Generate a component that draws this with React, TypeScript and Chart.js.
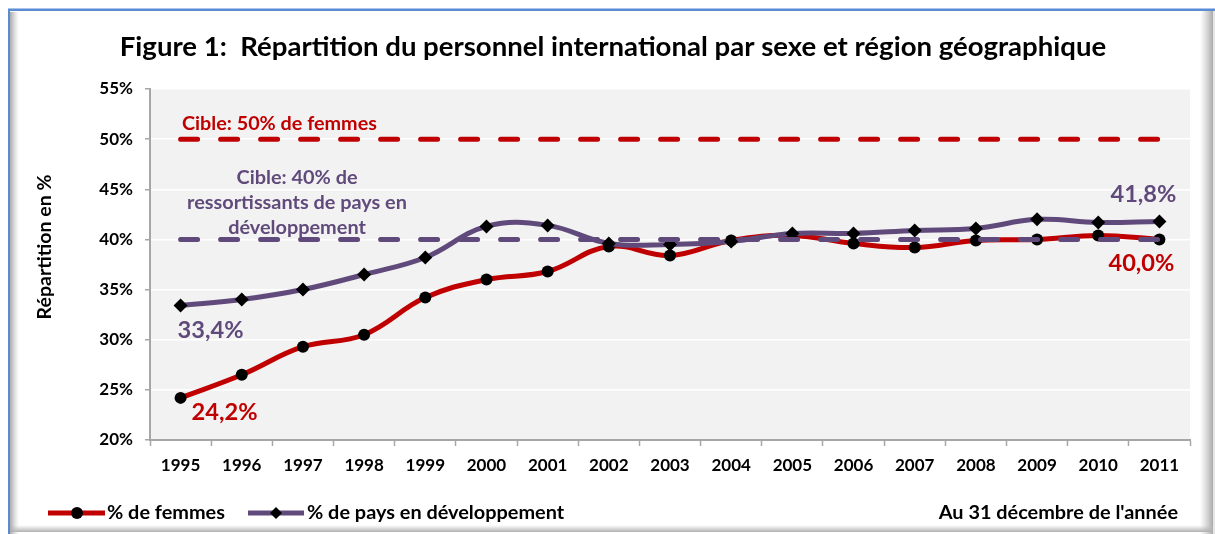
import React, { useEffect, useRef } from 'react';
import { Chart, registerables } from 'chart.js';

Chart.register(...registerables);

const YEARS = ['1995', '1996', '1997', '1998', '1999', '2000', '2001', '2002', '2003', '2004', '2005', '2006', '2007', '2008', '2009', '2010', '2011'];
const FEMMES = [24.2, 26.5, 29.3, 30.5, 34.2, 36.0, 36.8, 39.3, 38.4, 39.9, 40.4, 39.6, 39.2, 39.9, 40.0, 40.4, 40.0];
const PAYS_DEV = [33.4, 34.0, 35.0, 36.5, 38.2, 41.3, 41.4, 39.6, 39.5, 39.8, 40.6, 40.6, 40.9, 41.1, 42.0, 41.7, 41.8];
const CIBLE_FEMMES = [50, 50, 50, 50, 50, 50, 50, 50, 50, 50, 50, 50, 50, 50, 50, 50, 50];
const CIBLE_PAYS = [40, 40, 40, 40, 40, 40, 40, 40, 40, 40, 40, 40, 40, 40, 40, 40, 40];
const Y_MIN = 20;
const Y_MAX = 55;
const Y_STEP = 5;

const TITLE = 'Figure 1:  Répartition du personnel international par sexe et région géographique';
const Y_TITLE = 'Répartition en %';
const CIBLE_F_TEXT = 'Cible: 50% de femmes';
const CIBLE_P_TEXT = ['Cible: 40% de', 'ressortissants de pays en', 'développement'];
const LEGEND_F = '% de femmes';
const LEGEND_P = '% de pays en développement';
const FOOTNOTE = "Au 31 décembre de l'année";

const RED = '#c00000';
const PURPLE = '#604a7b';
const AXIS = '#a6a6a6';
const FONT = 'Lato, "Open Sans", sans-serif';

const fmt = (v: number) => v.toFixed(1).replace('.', ',') + '%';

function fitSize(ctx: CanvasRenderingContext2D, text: string, width: number, base = 20) {
  ctx.font = `bold ${base}px ${FONT}`;
  const w = ctx.measureText(text).width;
  return (base * width) / w;
}

const decorPlugin = {
  id: 'decor',
  beforeDraw(chart: any) {
    const ctx: CanvasRenderingContext2D = chart.ctx;
    const W = chart.width;
    const H = chart.height;
    ctx.save();
    ctx.fillStyle = '#ffffff';
    ctx.fillRect(0, 0, W, H);
    // right shadow
    let g = ctx.createLinearGradient(1200, 0, 1213, 0);
    g.addColorStop(0, 'rgba(190,190,190,0)');
    g.addColorStop(1, 'rgba(170,170,170,1)');
    ctx.fillStyle = g;
    ctx.fillRect(1200, 10, 13, H - 10);
    ctx.fillStyle = '#e6e6e6';
    ctx.fillRect(1213, 10, 2, H - 10);
    // bottom shadow
    g = ctx.createLinearGradient(0, 525, 0, 532);
    g.addColorStop(0, 'rgba(190,190,190,0)');
    g.addColorStop(1, 'rgba(175,175,175,1)');
    ctx.fillStyle = g;
    ctx.fillRect(10, 525, 1203, 7);
    // left inner shadow
    g = ctx.createLinearGradient(10, 0, 19, 0);
    g.addColorStop(0, 'rgba(170,170,170,1)');
    g.addColorStop(1, 'rgba(200,200,200,0)');
    ctx.fillStyle = g;
    ctx.fillRect(10, 12, 9, H - 12);
    // blue frame
    ctx.fillStyle = '#5b8bd3';
    ctx.fillRect(8, 9, W - 8, 2);
    ctx.fillRect(8, 9, 2, H - 9);
    ctx.fillStyle = '#a9c4ec';
    ctx.fillRect(8, 8, W - 8, 1);
    // plot area
    const a = chart.chartArea;
    ctx.fillStyle = '#f2f2f2';
    ctx.fillRect(a.left, a.top, a.right - a.left, a.bottom - a.top);
    ctx.restore();
  },
  afterDraw(chart: any) {
    const ctx: CanvasRenderingContext2D = chart.ctx;
    ctx.save();
    ctx.textBaseline = 'middle';

    // Title
    let s = fitSize(ctx, TITLE, 987, 22);
    ctx.font = `bold ${s}px ${FONT}`;
    ctx.fillStyle = '#000';
    ctx.textAlign = 'center';
    ctx.fillText(TITLE, 613, 47);

    // Y axis title
    s = fitSize(ctx, Y_TITLE, 145, 16);
    ctx.font = `bold ${s}px ${FONT}`;
    ctx.save();
    ctx.translate(45, 247);
    ctx.rotate(-Math.PI / 2);
    ctx.textAlign = 'center';
    ctx.fillText(Y_TITLE, 0, 0);
    ctx.restore();

    // Target annotations
    s = fitSize(ctx, CIBLE_F_TEXT, 195, 18);
    ctx.font = `bold ${s}px ${FONT}`;
    ctx.fillStyle = RED;
    ctx.textAlign = 'left';
    ctx.fillText(CIBLE_F_TEXT, 182, 124);

    s = fitSize(ctx, CIBLE_P_TEXT[1], 220, 18);
    ctx.font = `bold ${s}px ${FONT}`;
    ctx.fillStyle = PURPLE;
    ctx.textAlign = 'center';
    CIBLE_P_TEXT.forEach((t, i) => ctx.fillText(t, 297, 178 + i * 25));

    // Value labels
    const mF = chart.getDatasetMeta(0).data;
    const mP = chart.getDatasetMeta(1).data;
    const last = YEARS.length - 1;
    s = fitSize(ctx, fmt(PAYS_DEV[0]), 66, 22);
    ctx.font = `bold ${s}px ${FONT}`;
    ctx.fillStyle = PURPLE;
    ctx.textAlign = 'left';
    ctx.fillText(fmt(PAYS_DEV[0]), mP[0].x - 3, mP[0].y + 25);
    ctx.textAlign = 'center';
    ctx.fillText(fmt(PAYS_DEV[last]), mP[last].x - 16, mP[last].y - 27);
    ctx.fillStyle = RED;
    ctx.textAlign = 'left';
    ctx.fillText(fmt(FEMMES[0]), mF[0].x + 11, mF[0].y + 15);
    ctx.textAlign = 'center';
    ctx.fillText(fmt(FEMMES[last]), mF[last].x - 18, mF[last].y + 24);

    // Legend
    const ly = 513;
    ctx.lineCap = 'butt';
    ctx.lineWidth = 5;
    ctx.strokeStyle = RED;
    ctx.beginPath();
    ctx.moveTo(48, ly);
    ctx.lineTo(105, ly);
    ctx.stroke();
    ctx.fillStyle = '#000';
    ctx.beginPath();
    ctx.arc(77, ly, 6, 0, Math.PI * 2);
    ctx.fill();

    ctx.strokeStyle = PURPLE;
    ctx.beginPath();
    ctx.moveTo(248, ly);
    ctx.lineTo(304, ly);
    ctx.stroke();
    ctx.fillStyle = '#000';
    ctx.beginPath();
    ctx.moveTo(276 - 6, ly);
    ctx.lineTo(276, ly - 6);
    ctx.lineTo(276 + 6, ly);
    ctx.lineTo(276, ly + 6);
    ctx.closePath();
    ctx.fill();

    s = fitSize(ctx, LEGEND_F, 118, 16);
    ctx.font = `bold ${s}px ${FONT}`;
    ctx.fillStyle = '#000';
    ctx.textAlign = 'left';
    ctx.fillText(LEGEND_F, 107, ly);
    ctx.fillText(LEGEND_P, 307, ly);
    ctx.textAlign = 'right';
    ctx.fillText(FOOTNOTE, 1178, ly);

    ctx.restore();
  },
};

export default function App() {
  const ref = useRef<HTMLCanvasElement | null>(null);

  useEffect(() => {
    if (!ref.current) return;
    const dash = [17, 23];
    const chart = new Chart(ref.current, {
      type: 'line',
      data: {
        labels: YEARS,
        datasets: [
          {
            label: LEGEND_F,
            data: FEMMES,
            borderColor: RED,
            backgroundColor: '#000',
            pointBackgroundColor: '#000',
            pointBorderColor: '#000',
            pointStyle: 'circle',
            pointRadius: 6,
            pointBorderWidth: 0,
            borderWidth: 5,
            tension: 0.4,
            order: 3,
          },
          {
            label: LEGEND_P,
            data: PAYS_DEV,
            borderColor: PURPLE,
            backgroundColor: '#000',
            pointBackgroundColor: '#000',
            pointBorderColor: '#000',
            pointStyle: 'rectRot',
            pointRadius: 7,
            pointBorderWidth: 0,
            borderWidth: 5,
            tension: 0.4,
            order: 2,
          },
          {
            label: 'Cible femmes',
            data: CIBLE_FEMMES,
            borderColor: RED,
            borderDash: dash,
            borderCapStyle: 'round',
            borderWidth: 5,
            pointRadius: 0,
            tension: 0,
            order: 1,
          },
          {
            label: 'Cible pays',
            data: CIBLE_PAYS,
            borderColor: PURPLE,
            borderDash: dash,
            borderCapStyle: 'round',
            borderWidth: 5,
            pointRadius: 0,
            tension: 0,
            order: 0,
          },
        ],
      } as any,
      options: {
        animation: false,
        responsive: false,
        devicePixelRatio: 1,
        layout: { padding: { left: 0, right: 25, top: 89, bottom: 0 } },
        plugins: {
          legend: { display: false },
          tooltip: { enabled: false },
          title: { display: false },
        },
        scales: {
          x: {
            type: 'category',
            offset: true,
            grid: {
              display: true,
              drawOnChartArea: false,
              drawTicks: true,
              tickLength: 6,
              tickColor: AXIS,
              tickWidth: 1.5,
              offset: true,
            },
            border: { display: true, color: AXIS, width: 2 },
            ticks: {
              color: '#000',
              font: { family: FONT, size: 17, weight: 'bold' },
              padding: 9,
              maxRotation: 0,
              autoSkip: false,
            },
            afterFit: (sc: any) => {
              sc.height = 94;
            },
          },
          y: {
            min: Y_MIN,
            max: Y_MAX,
            ticks: {
              stepSize: Y_STEP,
              callback: (v: any) => v + '%',
              color: '#000',
              font: { family: FONT, size: 17, weight: 'bold' },
              padding: 12,
            },
            grid: {
              color: '#ffffff',
              lineWidth: 1.5,
              tickColor: AXIS,
              tickWidth: 1.5,
              tickLength: 5,
            },
            border: { display: true, color: AXIS, width: 2 },
            afterFit: (sc: any) => {
              sc.width = 150;
            },
          },
        },
      } as any,
      plugins: [decorPlugin],
    });
    return () => chart.destroy();
  }, []);

  return (
    <div style={{ position: 'absolute', left: 0, top: 0, width: 1215, height: 534 }}>
      <canvas ref={ref} width={1215} height={534} style={{ display: 'block' }} />
    </div>
  );
}
